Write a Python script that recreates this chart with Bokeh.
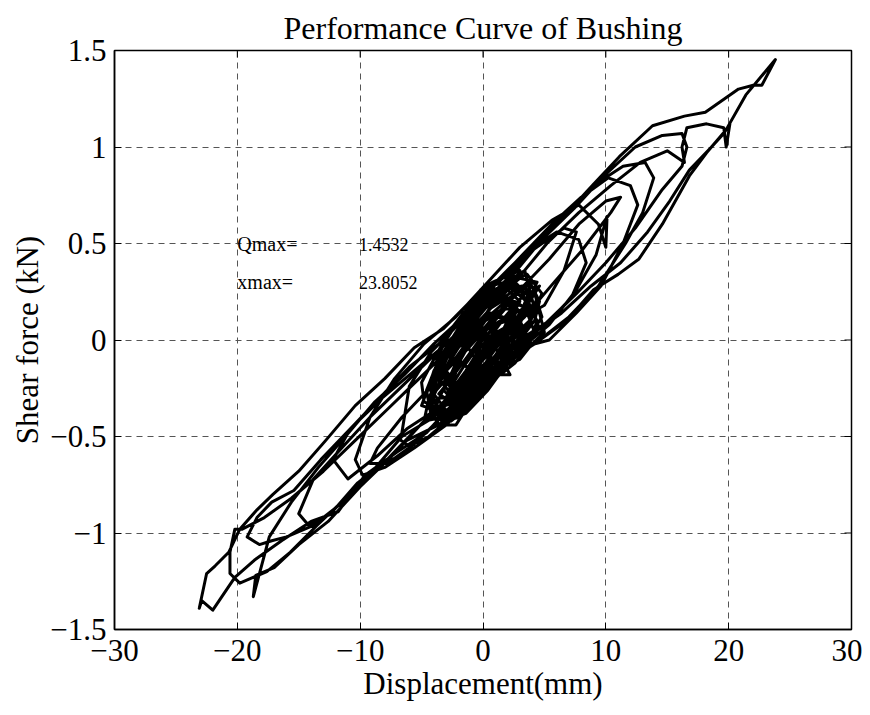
from bokeh.plotting import figure
from bokeh.models import Range1d, FixedTicker, CustomJSTickFormatter, Label
from bokeh.embed import file_html
from bokeh.resources import INLINE

# Displacement (mm) / shear force (kN): small cycles in the dense core
disp_core = [0.0, 1.5, 3.2, 4.4, 3.0, 1.0, -1.0, -3.0, -4.4, -4.8,
             -3.2, -1.2, 0.8, 2.6, 4.0, 4.8, 3.6, 2.0, 0.0, -2.0,
             -3.6, -4.6, -4.2, -2.6, -0.6, 1.4, 3.0, 4.2, 4.6, 3.8,
             2.2, 0.4, -1.4, -3.2, -4.4, -3.6, -1.8, 0.0, 1.8, 3.4,
             4.2, 3.4, 1.4, -0.6, -2.4, -3.8, -4.0, -2.8, -1.0, 1.0,
             2.8, 4.0, 4.8, 4.2, 2.6, 0.8, -1.0, -2.8, -4.2, -5.0,
             -4.0, -2.2, -0.4, 1.4, 3.0, 3.8, 2.6, 0.8, -1.0, -2.6,
             -3.6, -2.6, -0.8, 1.0, 2.4, 3.2, 2.0, 0.2, -1.6, -3.0,
             -4.2, -3.0, -1.4, 0.4, 2.0, 3.4, 4.6, 3.8, 2.0, 0.2,
             -1.6, -2.8, -1.6, 0.0, 1.6, 3.0, 2.0, 0.4, -1.4, -2.6,
             -1.2, 0.6, 2.2, 1.0, -0.6, 0.8, 2.4, 3.4]
force_core = [0.00, 0.02, 0.14, 0.30, 0.32, 0.22, 0.08, -0.10, -0.30, -0.42,
              -0.40, -0.30, -0.16, -0.02, 0.12, 0.24, 0.34, 0.30, 0.22, 0.06,
              -0.10, -0.26, -0.40, -0.36, -0.24, -0.12, 0.00, 0.10, 0.20, 0.30,
              0.22, 0.12, -0.02, -0.18, -0.34, -0.44, -0.34, -0.24, -0.10, 0.04,
              0.16, 0.36, 0.28, 0.16, 0.00, -0.14, -0.28, -0.38, -0.28, -0.18,
              -0.06, 0.04, 0.12, 0.24, 0.26, 0.18, 0.04, -0.08, -0.20, -0.34,
              -0.36, -0.32, -0.20, -0.06, 0.08, 0.22, 0.30, 0.26, 0.12, -0.04,
              -0.20, -0.28, -0.22, -0.10, 0.02, 0.14, 0.18, 0.10, -0.06, -0.22,
              -0.40, -0.42, -0.38, -0.26, -0.12, -0.02, 0.06, 0.18, 0.12, 0.02,
              -0.14, -0.26, -0.20, -0.08, 0.04, 0.20, 0.26, 0.18, 0.04, -0.10,
              -0.14, -0.04, 0.08, 0.00, -0.12, -0.22, -0.10, 0.04]

# More small cycles that fill the solid core
disp_core2 = [0.5, 2.0, 3.0, 2.0, 0.5, -1.0, -2.2, -3.2, -2.0, -0.8,
              0.6, 1.8, 3.8, 4.4, 3.2, 1.6, 0.2, -1.4, -2.6, -3.8,
              -4.4, -3.8, -2.4, -1.2, 0.2, 1.2, 2.2, 3.4, 4.2, 3.6,
              2.6, 1.4, 0.0, -1.2, -2.2, -3.4, -2.8, -1.6, -0.2, 1.0,
              2.2, 1.2, -0.2, -1.8, -3.0, -3.8, -2.6, -1.0, 0.4, 1.6,
              3.0, 4.0, 5.0, 4.6, 3.0, 1.2, -0.2, 0.8, 2.2, 3.0,
              1.6, 0.0, -1.6, -2.8, -4.0, -5.0, -4.8, -3.4, -2.0, -0.8,
              0.6, 1.8, 3.0, 4.0, 2.8, 1.2, -0.4, -1.8, -3.0, -2.0,
              -0.6, 0.8, 2.4, 1.4, 0.2, -1.0, -2.2, -3.6, -4.6, -3.8,
              -2.4, -1.0, 0.4, 1.8, 3.4, 2.4, 0.8, -0.6, -1.4, -0.4,
              1.0, 2.6, 3.8, 4.6, 3.6, 2.0, 0.4, -1.2, -2.6, -3.4,
              -2.2, -0.6, 1.0, 2.4, 3.6]
force_core2 = [-0.20, -0.06, 0.06, 0.22, 0.16, 0.02, -0.12, -0.26, -0.34, -0.30,
               -0.18, -0.02, 0.10, 0.22, 0.28, 0.26, 0.18, 0.06, -0.06, -0.18,
               -0.24, -0.34, -0.40, -0.36, -0.24, -0.16, -0.12, -0.04, 0.04, 0.14,
               0.16, 0.10, 0.04, -0.04, -0.02, -0.12, -0.22, -0.24, -0.20, -0.18,
               -0.18, -0.06, 0.08, -0.10, -0.30, -0.44, -0.42, -0.34, -0.24, -0.14,
               -0.10, -0.02, 0.04, 0.14, 0.18, 0.20, 0.26, 0.30, 0.34, 0.36,
               0.32, 0.24, 0.14, 0.04, -0.10, -0.22, -0.32, -0.36, -0.26, -0.14,
               -0.02, 0.06, 0.12, 0.30, 0.24, 0.14, 0.10, 0.00, -0.16, -0.24,
               -0.22, -0.12, -0.04, 0.02, -0.08, -0.20, -0.30, -0.30, -0.36, -0.26,
               -0.16, -0.08, 0.00, 0.12, 0.24, 0.30, 0.22, 0.14, -0.02, -0.12,
               -0.04, 0.06, 0.20, 0.28, 0.20, 0.04, -0.10, -0.26, -0.38, -0.44,
               -0.44, -0.28, -0.14, -0.08, 0.02]

# Short zig-zags inside the core
disp_core3 = [3.0, 1.0, -0.6, -2.0, -1.0, 0.4, 1.8, 2.8, 1.8, 0.4,
              -1.2, -2.6, -3.6, -2.6, -1.4, -0.2, 1.0, 2.2, 3.6, 2.6,
              1.2, 0.0, -1.2, -2.4, -3.4, -4.2, -3.2, -2.0, -0.8, 0.4,
              1.4, 2.8, 3.8, 4.2, 3.2, 2.0, 0.8, -0.4, -1.6, -2.2,
              -3.0, -4.0, -4.6, -4.0, -3.0, -2.0, -1.0, 0.0, 1.2, 2.6,
              3.4, 2.4, 1.2, -0.2, -1.4, -2.8, -1.8, -0.6, 0.6, 1.6,
              0.6, -0.8, -2.0, -3.2, -2.2, -1.0, 0.2, 1.4, 2.6, 3.8,
              4.4, 3.0, 1.8, 0.6, -0.6, -1.8, -3.0, -3.8, -3.0, -1.8,
              -0.6, 0.8, 2.0, 1.0, 0.0]
force_core3 = [0.10, 0.12, 0.00, -0.10, -0.16, -0.08, 0.02, 0.16, 0.16, 0.06,
               -0.08, -0.20, -0.28, -0.32, -0.26, -0.16, -0.08, 0.04, 0.16, 0.20,
               0.20, 0.16, 0.06, -0.06, -0.20, -0.30, -0.38, -0.36, -0.26, -0.16,
               -0.04, 0.02, 0.08, 0.16, 0.22, 0.28, 0.24, 0.18, 0.08, 0.04,
               -0.06, -0.16, -0.28, -0.38, -0.42, -0.40, -0.30, -0.20, -0.12, -0.06,
               0.06, 0.08, 0.04, -0.04, -0.16, -0.28, -0.20, -0.10, 0.00, 0.12,
               0.14, 0.04, -0.04, -0.16, -0.26, -0.20, -0.12, -0.18, -0.12, -0.02,
               0.10, 0.26, 0.30, 0.28, 0.22, 0.12, 0.00, -0.10, -0.22, -0.30,
               -0.24, -0.06, 0.10, 0.08, 0.00]

# Larger hysteresis cycles
disp_loops = [5.0, 6.6, 7.6, 6.6, 4.8, 2.6, 0.4, -2.0, -4.2, -6.0,
              -6.7, -6.0, -4.4, -2.2, 0.2, 2.8, 5.4, 7.6, 9.2, 10.1,
              10.0, 9.4, 7.8, 5.6, 3.0, 0.4, -2.2, -4.8, -7.2, -9.2,
              -10.4, -9.8, -8.0, -5.6, -3.0, -0.6, 2.0, 4.6, 7.0, 9.4,
              11.6, 13.0, 13.9, 13.2, 11.4, 9.0, 6.4, 3.8, 1.2, -1.4,
              -4.0, -6.6, -9.2, -11.8, -13.8, -15.0, -14.2, -12.4, -10.2, -7.8,
              -5.4, -2.8, -0.2, 2.4, 5.0, 7.6, 10.0, 12.4, 14.6, 16.2,
              16.6, 16.2, 14.6, 12.4, 10.0, 7.4, 4.8, 2.2, -0.4, -3.0,
              -5.6, -8.2, -10.8, -13.2, -15.4, -17.2, -18.4, -19.2, -18.2, -17.2,
              -16.0, -13.8, -11.4, -9.0, -6.6, -4.0, -1.4, 1.2, 3.8, 6.4,
              8.8, 11.2, 13.4, 15.2, 16.8, 18.6, 19.6, 20.1, 19.8, 19.6,
              18.2, 16.6, 16.2, 16.4, 15.0, 12.8, 10.4, 7.8, 5.2, 2.6,
              0.0, -2.6, -5.2, -7.8, -10.4, -13.0, -15.6, -17.8, -19.6, -20.2,
              -20.6, -20.6, -19.8, -17.6, -15.7, -13.5, -11.2, -8.8, -6.2, -3.6,
              -1.0, 1.6, 4.2, 6.8, 9.0, 11.0, 12.7, 14.6, 16.8, 18.2,
              19.4, 19.8, 21.4, 23.8052, 22.7, 22.0, 20.8, 18.1, 16.4, 13.8,
              11.1, 8.9, 5.4, 2.4, -0.4, -3.2, -5.6, -8.0, -10.4, -12.8,
              -15.0, -17.1, -18.4, -19.8, -20.7, -21.8, -22.5, -23.1, -22.9, -22.0,
              -20.2, -18.6, -16.4, -14.0, -11.8, -9.6, -7.0, -4.6, -2.0, 0.4,
              3.0, 5.4, 7.6, 9.6, 11.4, 12.6, 12.0, 10.2, 8.0, 5.6,
              3.2, 0.8, -1.6, -4.0, -6.4, -8.8, -11.2, -13.4, -15.6, -17.4,
              -18.7, -18.5, -17.0, -15.0, -12.6, -10.0, -7.4, -4.8, -2.2, 0.4,
              3.0, 5.4, 7.2, 8.4, 7.8, 6.0, 3.6, 1.2, -1.2, -3.6,
              -6.0, -8.4, -10.8, -12.2, -11.0, -8.6, -6.2, -3.8, -1.4, 1.0,
              3.4, 5.8, 8.0, 10.4, 11.2, 10.0, 7.8, 5.4, 3.0, 0.6,
              -1.8, -4.2, -6.6, -8.6, -9.2, -7.8, -5.6, -3.4, -1.2, 1.0,
              2.6, 1.4, 0.0]
force_loops = [0.18, 0.36, 0.56, 0.58, 0.50, 0.40, 0.26, 0.08, -0.06, -0.24,
               -0.52, -0.55, -0.50, -0.38, -0.22, -0.06, 0.08, 0.26, 0.44, 0.64,
               0.48, 0.60, 0.70, 0.62, 0.48, 0.30, 0.12, -0.02, -0.20, -0.40,
               -0.62, -0.70, -0.66, -0.56, -0.44, -0.28, -0.12, 0.00, 0.12, 0.28,
               0.50, 0.66, 0.84, 0.92, 0.90, 0.80, 0.64, 0.46, 0.26, 0.08,
               -0.08, -0.24, -0.40, -0.58, -0.72, -0.90, -0.96, -0.90, -0.74, -0.62,
               -0.46, -0.30, -0.14, -0.02, 0.08, 0.24, 0.40, 0.58, 0.78, 0.90,
               1.00, 1.07, 1.06, 1.00, 0.86, 0.68, 0.52, 0.32, 0.14, -0.02,
               -0.16, -0.30, -0.46, -0.62, -0.78, -0.84, -0.92, -1.02, -1.06, -1.04,
               -1.02, -0.96, -0.84, -0.68, -0.50, -0.40, -0.22, -0.10, 0.02, 0.14,
               0.28, 0.40, 0.56, 0.72, 0.88, 1.00, 1.07, 1.12, 1.00, 1.10,
               1.12, 1.10, 1.00, 0.92, 0.98, 0.92, 0.80, 0.66, 0.50, 0.30,
               0.12, -0.04, -0.20, -0.36, -0.52, -0.68, -0.82, -0.92, -0.98, -0.98,
               -1.10, -1.21, -1.26, -1.20, -1.10, -0.96, -0.82, -0.68, -0.52, -0.44,
               -0.26, -0.12, -0.02, 0.10, 0.26, 0.34, 0.42, 0.60, 0.85, 0.97,
               1.06, 1.09, 1.27, 1.4532, 1.32, 1.32, 1.30, 1.18, 1.16, 1.11,
               0.95, 0.80, 0.56, 0.36, 0.24, 0.06, -0.04, -0.20, -0.34, -0.52,
               -0.68, -0.80, -0.88, -0.98, -1.10, -1.17, -1.21, -1.39, -1.35, -1.40,
               -1.23, -1.14, -1.04, -0.94, -0.89, -0.70, -0.58, -0.48, -0.30, -0.16,
               -0.04, 0.00, 0.14, 0.28, 0.50, 0.70, 0.80, 0.84, 0.74, 0.60,
               0.44, 0.28, 0.12, -0.02, -0.18, -0.32, -0.50, -0.66, -0.84, -1.02,
               -1.33, -1.22, -1.18, -1.06, -0.94, -0.76, -0.60, -0.42, -0.28, -0.14,
               0.00, 0.10, 0.22, 0.40, 0.52, 0.56, 0.46, 0.30, 0.14, -0.02,
               -0.14, -0.30, -0.46, -0.62, -0.72, -0.60, -0.46, -0.36, -0.20, -0.02,
               0.12, 0.30, 0.46, 0.66, 0.74, 0.72, 0.60, 0.42, 0.26, 0.10,
               -0.08, -0.24, -0.40, -0.56, -0.64, -0.64, -0.54, -0.40, -0.24, -0.08,
               0.02, 0.00, -0.04]

x_ticks = [-30, -20, -10, 0, 10, 20, 30]
y_ticks = [-1.5, -1, -0.5, 0, 0.5, 1, 1.5]
title_text = "Performance Curve of Bushing"
x_label = "Displacement(mm)"
y_label = "Shear force (kN)"
qmax_label = "Qmax="
qmax_value = "1.4532"
xmax_label = "xmax="
xmax_value = "23.8052"

disp = disp_core + disp_core2 + disp_core3 + disp_loops
force = force_core + force_core2 + force_core3 + force_loops

FONT = "Liberation Serif"
X0, X1, Y0, Y1 = -30, 30, -1.5, 1.5

p = figure(width=862, height=707, output_backend="svg", toolbar_location=None,
           x_range=Range1d(X0, X1), y_range=Range1d(Y0, Y1),
           title=title_text,
           min_border_left=114, min_border_right=11,
           min_border_top=50, min_border_bottom=78)
p.background_fill_color = "white"
p.border_fill_color = "white"
p.outline_line_color = "black"
p.outline_line_width = 1.5

p.title.align = "center"
p.title.text_font = FONT
p.title.text_font_size = "32px"
p.title.text_font_style = "normal"
p.title.text_color = "black"

fmt = CustomJSTickFormatter(code="return String(tick).replace('-', '\u2212');")

for ax, ticks, lab, sd in ((p.xaxis[0], x_ticks, x_label, 10), (p.yaxis[0], y_ticks, y_label, 8)):
    ax.ticker = FixedTicker(ticks=ticks)
    ax.formatter = fmt
    ax.axis_label = lab
    ax.axis_label_text_font = FONT
    ax.axis_label_text_font_size = "31px"
    ax.axis_label_text_font_style = "normal"
    ax.axis_label_text_color = "black"
    ax.major_label_text_font = FONT
    ax.major_label_text_font_size = "31px"
    ax.major_label_text_color = "black"
    ax.major_tick_in = 7
    ax.major_tick_out = 0
    ax.minor_tick_line_color = None
    ax.axis_line_color = "black"
    ax.axis_line_width = 1.5
    ax.major_tick_line_color = "black"
    ax.major_label_standoff = sd
    ax.axis_label_standoff = 2

for g in (p.xgrid[0], p.ygrid[0]):
    g.grid_line_color = "#555555"
    g.grid_line_dash = "6 5"
    g.grid_line_width = 1

# inward tick marks on the top and right edges of the box
p.ray(x=x_ticks, y=[Y1] * len(x_ticks), length=7, length_units="screen",
      angle=-90, angle_units="deg", line_color="black", line_width=1)
p.ray(x=[X1] * len(y_ticks), y=y_ticks, length=7, length_units="screen",
      angle=180, angle_units="deg", line_color="black", line_width=1)

p.line(disp, force, line_color="black", line_width=3, line_join="round")

for x, y, t, s in ((-20, 0.495, qmax_label, "20px"), (-10.1, 0.495, qmax_value, "18px"),
                   (-20, 0.30, xmax_label, "20px"), (-10.1, 0.30, xmax_value, "18px")):
    p.add_layout(Label(x=x, y=y, text=t, text_font=FONT, text_font_size=s,
                       text_baseline="middle", text_align="left", text_color="black"))

open("out.html", "w").write(file_html(p, INLINE))
